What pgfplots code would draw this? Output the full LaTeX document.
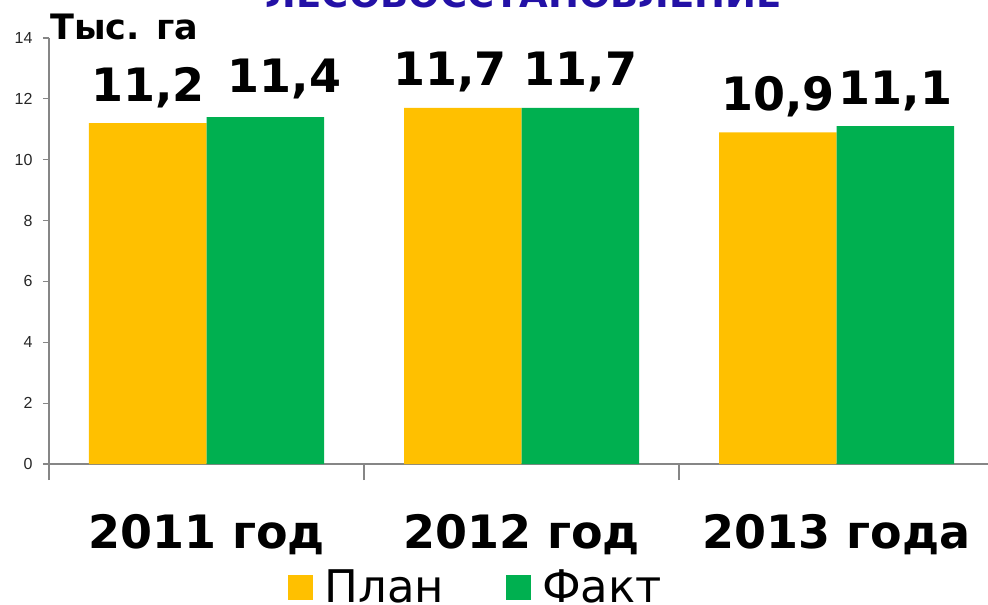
\documentclass[border=0pt]{standalone}
\usepackage{pgfplots}
\pgfplotsset{compat=1.18}
\usepackage{fontspec}
\setmainfont{DejaVu Sans}
\newfontfamily\arial{Liberation Sans}
\definecolor{plan}{HTML}{FFC000}
\definecolor{fakt}{HTML}{00B050}
\definecolor{ttl}{HTML}{2311A6}
\definecolor{axgray}{HTML}{868686}
\begin{document}
\begin{tikzpicture}
\begin{axis}[
  at={(0pt,0pt)}, anchor=south west,
  scale only axis, width=945pt, height=426pt,
  xmin=-0.5, xmax=2.5, ymin=0, ymax=14,
  ybar=0pt, bar width=117.5pt,
  axis x line*=bottom, axis y line*=left,
  axis line style={axgray, line width=1.2pt},
  ytick={0,2,...,14},
  tick align=outside,
  major tick length=6pt,
  minor tick length=16pt,
  tick style={axgray, line width=1.2pt},
  xtick={0,1,2},
  xticklabels={2011 год, 2012 год, 2013 года},
  major x tick style={draw=none},
  minor xtick={-0.5,0.5,1.5,2.5},
  xticklabel style={font=\bfseries\fontsize{46}{52}\selectfont, anchor=base, yshift=-78pt},
  yticklabel style={font=\arial\fontsize{16}{18}\selectfont, text=black!85, xshift=-7pt},
  /pgf/number format/assume math mode=true,
  visualization depends on={value \coordindex \as \idx},
  nodes near coords={\pgfmathprintnumber[fixed,fixed zerofill,precision=1,use comma]{\pgfplotspointmeta}},
  nodes near coords style={font=\bfseries\fontsize{46}{52}\selectfont, anchor=base, yshift=22pt, text=black},
  legend style={at={(0.452,-0.289)}, anchor=center, draw=none, fill=none,
    font=\fontsize{45}{50}\selectfont, legend columns=2,
    /tikz/every odd column/.append style={column sep=9pt},
    /tikz/every even column/.append style={column sep=60pt}},
]
\addplot[fill=plan, draw=none,
  every node near coord/.append style={xshift={(\idx==1)*(-13pt)}},
  legend image code/.code={\fill[plan] (0pt,-12.5pt) rectangle (25pt,12.5pt);}]
  coordinates {(0,11.2) (1,11.7) (2,10.9)};
\addlegendentry{План}
\addplot[fill=fakt, draw=none,
  every node near coord/.append style={xshift={(\idx==0)*(19pt)}, yshift={(\idx==0)*(3pt)}},
  legend image code/.code={\fill[fakt] (0pt,-12.5pt) rectangle (25pt,12.5pt);}]
  coordinates {(0,11.4) (1,11.7) (2,11.1)};
\addlegendentry{Факт}
\end{axis}
\node[anchor=base, text=ttl, font=\bfseries\fontsize{37}{40}\selectfont] at (475pt,456pt) {ЛЕСОВОССТАНОВЛЕНИЕ};
\node[anchor=base west, inner sep=0pt, font=\bfseries\fontsize{35}{40}\selectfont] at (1pt,424pt) {Тыс. га};
\pgfresetboundingbox
\path (-49pt,-141pt) rectangle (939pt,464pt);
\end{tikzpicture}
\end{document}
